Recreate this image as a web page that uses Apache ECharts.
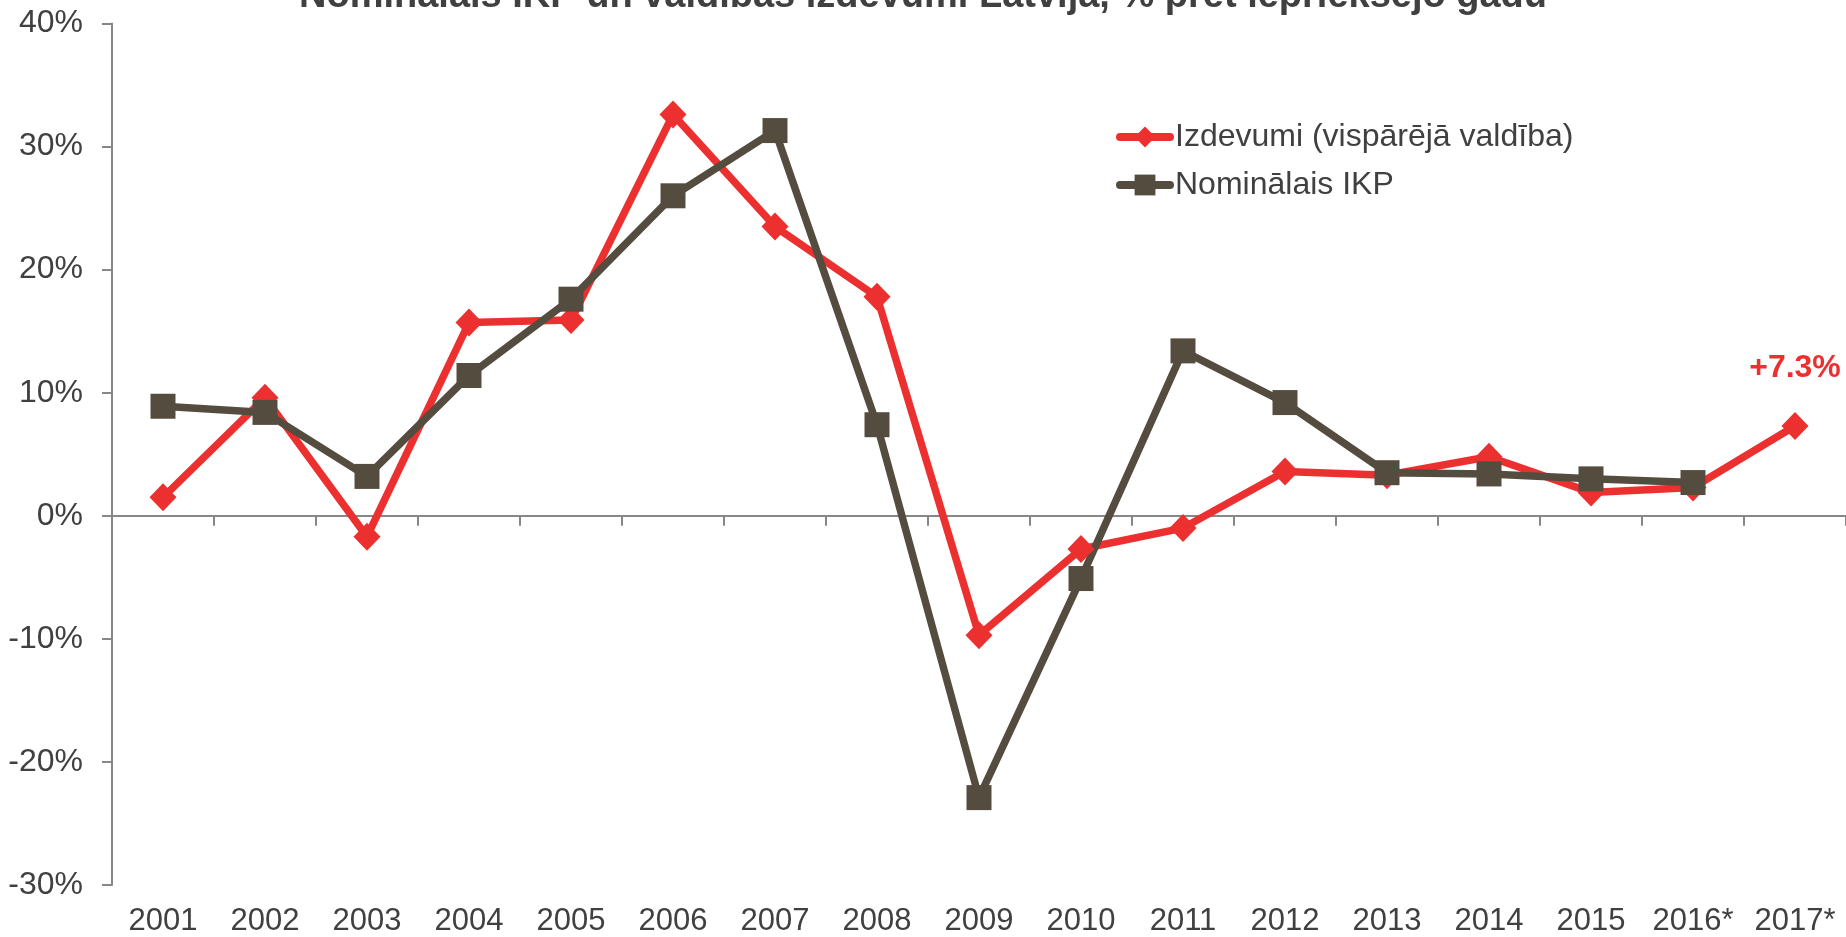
<!DOCTYPE html>
<html>
<head>
<meta charset="utf-8">
<style>
  html, body { margin: 0; padding: 0; background: #fff; }
  #chart { width: 1846px; height: 937px; }
</style>
<script src="https://cdn.jsdelivr.net/npm/echarts@6/dist/echarts.min.js"></script>
</head>
<body>
<div id="chart"></div>
<script>
// gadi
const years = ['2001', '2002', '2003', '2004', '2005', '2006', '2007', '2008', '2009',
  '2010', '2011', '2012', '2013', '2014', '2015', '2016*', '2017*']
// % pret iepriekšējo gadu
const izdevumi = [1.5, 9.6, -1.7, 15.7, 15.9, 32.6, 23.5, 17.8, -9.7, -2.7, -1.0, 3.6, 3.3, 4.8, 1.9, 2.3, 7.3]
const ikp = [8.9, 8.4, 3.2, 11.4, 17.6, 26.0, 31.3, 7.4, -22.9, -5.1, 13.4, 9.2, 3.5, 3.4, 3.0, 2.7, null]
const yTicks = { min: -30, max: 40, step: 10 }

const RED = '#ec3030'
const GRAY = '#554c40'
const TXT = '#404040'
const AXIS = '#878787'
const FONT = 'Liberation Sans, Arial'

const chart = echarts.init(document.getElementById('chart'))

// tikai pēdējam punktam ir uzraksts
const redData = izdevumi.map((v, i) => {
  if (i !== izdevumi.length - 1) return v
  return {
    value: v,
    label: {
      show: true,
      position: 'top',
      distance: 28,
      formatter: '+' + v.toFixed(1) + '%',
      color: RED,
      fontWeight: 'bold',
      fontSize: 32,
      fontFamily: FONT
    }
  }
})

chart.setOption({
  animation: false,
  title: {
    text: 'Nominālais IKP un valdības izdevumi Latvijā, % pret iepriekšējo gadu',
    left: 'center',
    top: -27,
    textStyle: {
      fontFamily: FONT,
      fontWeight: 'bold',
      fontSize: 38,
      lineHeight: 38,
      color: TXT
    }
  },
  legend: {
    orient: 'vertical',
    left: 1111,
    top: 116,
    itemWidth: 50,
    itemHeight: 26,
    itemGap: 16,
    lineStyle: { width: 8, cap: 'round' },
    textStyle: { fontFamily: FONT, fontSize: 32, color: TXT },
    data: ['Izdevumi (vispārējā valdība)', 'Nominālais IKP']
  },
  grid: { left: 112, right: 0, top: 23.5, bottom: 52 },
  xAxis: [{
    type: 'category',
    data: years,
    axisLine: { onZero: true, lineStyle: { color: AXIS, width: 2 } },
    axisTick: { show: true, length: 10, lineStyle: { color: AXIS, width: 2 } },
    axisLabel: { show: false }
  }, {
    type: 'category',
    data: years,
    position: 'bottom',
    axisLine: { show: false, onZero: false },
    axisTick: { show: false },
    axisLabel: {
      interval: 0,
      margin: 21,
      fontFamily: FONT,
      fontSize: 31,
      color: TXT
    }
  }],
  yAxis: {
    type: 'value',
    min: yTicks.min,
    max: yTicks.max,
    interval: yTicks.step,
    splitLine: { show: false },
    axisLine: { show: true, lineStyle: { color: AXIS, width: 2 } },
    axisTick: { show: true, length: 10, lineStyle: { color: AXIS, width: 2 } },
    axisLabel: {
      margin: 29,
      formatter: '{value}%',
      fontFamily: FONT,
      fontSize: 32,
      color: TXT
    }
  },
  series: [{
    name: 'Izdevumi (vispārējā valdība)',
    type: 'line',
    xAxisIndex: 0,
    data: redData,
    symbol: 'diamond',
    symbolSize: [27, 28],
    lineStyle: { color: RED, width: 7.5 },
    itemStyle: { color: RED }
  }, {
    name: 'Nominālais IKP',
    type: 'line',
    xAxisIndex: 0,
    data: ikp,
    symbol: 'rect',
    symbolSize: 25,
    lineStyle: { color: GRAY, width: 7.5 },
    itemStyle: { color: GRAY }
  }]
})
</script>
</body>
</html>
